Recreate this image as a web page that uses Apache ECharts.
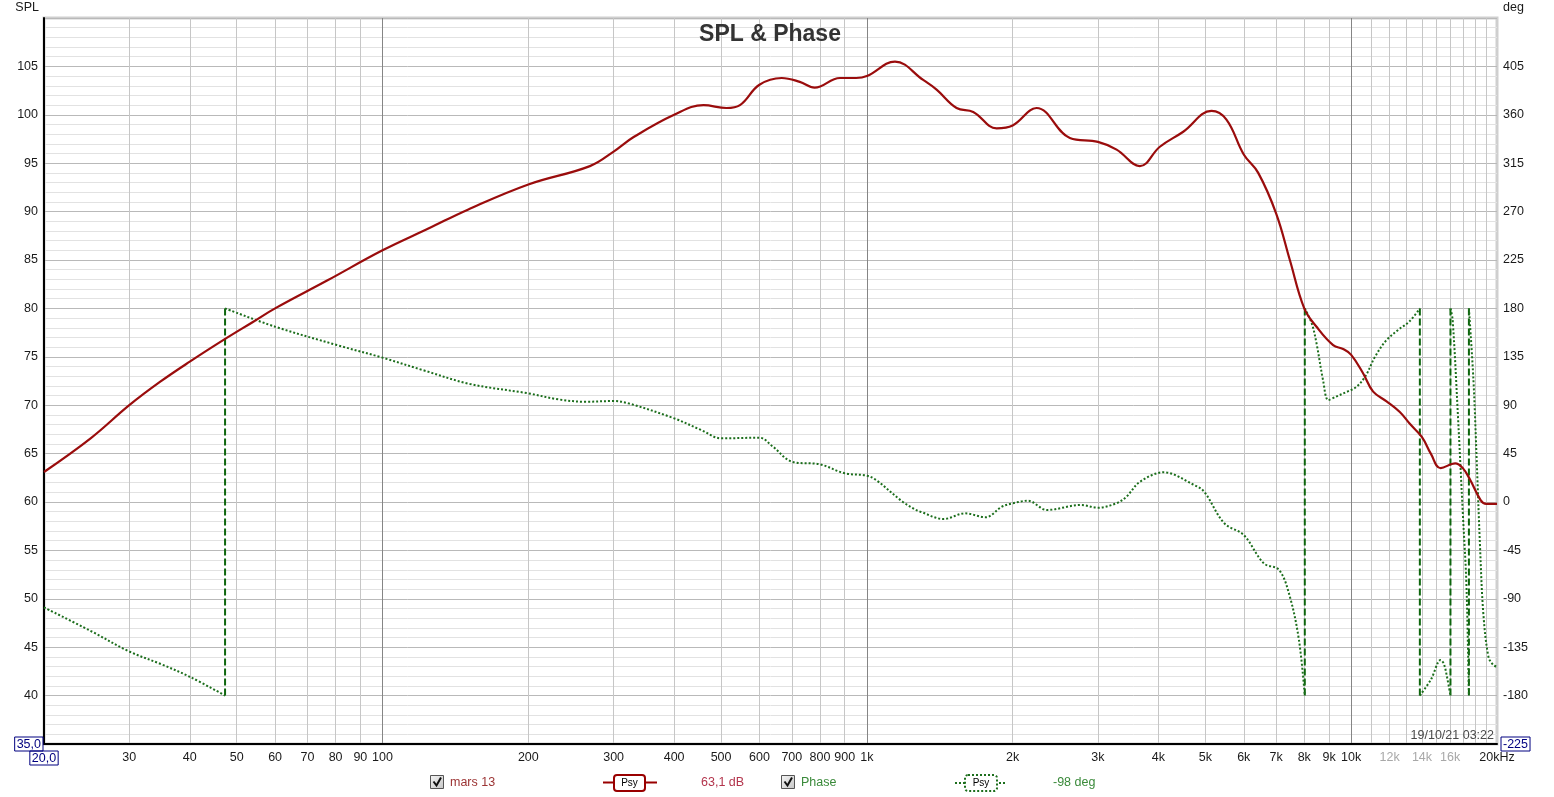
<!DOCTYPE html>
<html><head><meta charset="utf-8">
<script src="https://cdn.jsdelivr.net/npm/echarts@6/dist/echarts.min.js"></script>
<style>html,body{margin:0;padding:0;background:#fff}#c{width:1554px;height:797px}</style>
</head><body><div id="c"></div>
<script>
// ---- data ----
const splFreq = [20,25,30,34.7,40,47.5,54,60,77,100,125,150,200,268,300,330,400,460,513,547,600,667,727,780,880,950,1000,1143,1307,1393,1532,1658,1853,2000,2240,2625,3000,3278,3661,4027,4500,5148,5526,6000,6427,7000,7470,8000,8480,9177,9624,10000,10580,11100,11830,12600,13200,14000,14600,15300,16400,17000,17600,18500,19000,20000];
const splDb = [63.1,66.6,70.0,72.4,74.5,76.9,78.6,80.0,82.9,86.0,88.3,90.2,92.8,94.7,96.2,97.7,100.0,101.0,100.7,101.0,103.1,103.8,103.4,102.8,103.8,103.8,104.0,105.5,103.6,102.6,100.7,100.3,98.6,98.9,100.7,97.6,97.2,96.4,94.7,96.7,98.25,100.4,99.5,95.9,94.0,89.8,85.0,80.0,78.1,76.2,75.8,75.2,73.3,71.4,70.4,69.3,68.1,66.7,65.0,63.5,64.0,63.5,62.3,60.2,59.8,59.8];

const phaseFreq = [20,25,30,35,40,47.3,47.3,47.3,60,80.4,100,121,151.6,200,231,263,300,322,400,455,500,600,640,700,800,900,1000,1045,1185,1257,1290,1440,1594,1758,1900,2000,2150,2354,2765,3000,3276,3436,3665,4100,4740,4970,5470,6000,6600,7100,7470,7800,8020,8020,8020,8290,8480,8750,8970,9300,9800,10250,10700,11200,11800,12500,13200,13860,13860,13860,14620,15300,15540,15790,16030,16030,16030,16200,16600,17000,17280,17420,17500,17500,17500,17880,18170,18450,18740,19200,19650,20000];
const phaseDeg = [-98,-120,-139,-151,-162.5,-180,null,180,163,146,134.2,122.7,109.7,101,95.4,93.2,93.9,91.7,77.8,66.9,59.2,59.8,51.4,37.5,35,26.7,24.5,20.4,0.3,-6.8,-9,-15.8,-10.5,-14.2,-4.4,-1.2,1.2,-7.4,-2.8,-5.3,-1.2,5,18.9,27.6,15.8,9.6,-19.8,-30.7,-57,-63.2,-88,-128.3,-180,null,180,166,147.5,113,94.8,97.9,102.5,107,117,135,150,160,168,180,null,-180,-164.8,-146.9,-150.6,-164,-180,null,180,169,82.5,-10.5,-72.5,-134.5,-180,null,180,113.4,36,-41.6,-103.5,-143.8,-151.6,-153];
const wrapFreq = [47.3, 8020, 13860, 16030, 17500];
const wrapDeg = [-180, 180];

const xLabelValues = [20,30,40,50,60,70,80,90,100,200,300,400,500,600,700,800,900,1000,2000,3000,4000,5000,6000,7000,8000,9000,10000,12000,14000,16000,20000];
const xLightLabels = [12000,14000,16000];
const xGridValues = [30,40,50,60,70,80,90,100,200,300,400,500,600,700,800,900,1000,2000,3000,4000,5000,6000,7000,8000,9000,10000,11000,12000,13000,14000,15000,16000,17000,18000,19000];
const xDecadeValues = [100,1000,10000];

const legendTexts = {spl:'mars 13', splValue:'63,1 dB', phase:'Phase', phaseValue:'-98 deg', tag:'Psy'};
const stampText = '19/10/21 03:22';
const titleText = 'SPL & Phase';

// ---- build ----
const FF = '"Liberation Sans", Arial, sans-serif';
const splData = splFreq.map((f,i)=>[f, splDb[i]]);
const phaseData = phaseFreq.map((f,i)=>[f, phaseDeg[i]==null?'-':phaseDeg[i]]);
const wrapData = [];
wrapFreq.forEach(f=>{ wrapData.push([f,wrapDeg[0]],[f,wrapDeg[1]],[f,'-']); });

const navyBox = {color:'#000080', borderColor:'#000080', borderWidth:1, padding:[1,2,0,2], fontSize:12.5, fontFamily:FF};

function fmtX(v){
  v = Math.round(v);
  if (v===20) return '{b|20,0}';
  if (v===20000) return '20kHz';
  const s = v>=1000 ? (v/1000)+'k' : String(v);
  if (xLightLabels.indexOf(v)>=0) return '{g|'+s+'}';
  return s;
}

const chart = echarts.init(document.getElementById('c'), null, {renderer:'canvas'});
const greenDot = '#1c6e1c';
const option = {
  animation:false,
  backgroundColor:'#ffffff',
  textStyle:{fontFamily:FF},
  grid:{left:44, right:57, top:18, bottom:53, show:true, borderColor:'#cfcfcf', borderWidth:3, backgroundColor:'#ffffff'},
  xAxis:[
    {type:'log', logBase:10, min:20, max:20000, position:'bottom',
     axisLine:{show:true, onZero:false, lineStyle:{color:'#000', width:2}},
     axisTick:{show:false, customValues:xGridValues},
     axisLabel:{customValues:xLabelValues, formatter:fmtX, margin:7, color:'#1a1a1a', fontSize:12.5, fontFamily:FF, hideOverlap:false,
       rich:{b:navyBox, g:{color:'#a8a8a8', fontSize:12.5, fontFamily:FF}}},
     splitLine:{show:true, lineStyle:{color:'#c6c6c6', width:1}}},
    {type:'log', logBase:10, min:20, max:20000, position:'bottom',
     axisLine:{show:false}, axisTick:{show:false, customValues:xDecadeValues}, axisLabel:{show:false},
     splitLine:{show:true, lineStyle:{color:'#858585', width:1}}}
  ],
  yAxis:[
    {type:'value', min:35, max:110, interval:5, position:'left',
     name:'SPL', nameLocation:'end', nameGap:10,
     nameTextStyle:{align:'right', verticalAlign:'middle', padding:[0,5,0,0], color:'#1a1a1a', fontSize:12.5, fontFamily:FF},
     axisLine:{show:true, onZero:false, lineStyle:{color:'#000', width:2}},
     axisTick:{show:false},
     minorTick:{show:false, splitNumber:5},
     minorSplitLine:{show:true, lineStyle:{color:'#e2e2e2', width:1}},
     splitLine:{show:true, lineStyle:{color:'#b9b9b9', width:1}},
     axisLabel:{margin:1, color:'#1a1a1a', fontSize:12.5, fontFamily:FF,
       formatter:v=> v===110 ? '' : (v===35 ? '{b|35,0}' : '{n|'+v+'}{s| }'),
       rich:{b:navyBox, n:{color:'#1a1a1a', fontSize:12.5, fontFamily:FF}, s:{width:5}}}},
    {type:'value', min:-225, max:450, interval:45, position:'right',
     name:'deg', nameLocation:'end', nameGap:10,
     nameTextStyle:{align:'left', verticalAlign:'middle', padding:[0,0,0,6], color:'#1a1a1a', fontSize:12.5, fontFamily:FF},
     axisLine:{show:false}, axisTick:{show:false}, splitLine:{show:false},
     axisLabel:{margin:4, color:'#1a1a1a', fontSize:12.5, fontFamily:FF,
       formatter:v=> v===450 ? '' : (v===-225 ? '{b|-225}' : '{s| }{n|'+v+'}'),
       rich:{b:navyBox, n:{color:'#1a1a1a', fontSize:12.5, fontFamily:FF}, s:{width:2}}}}
  ],
  series:[
    {name:'Phase wrap', type:'line', xAxisIndex:0, yAxisIndex:1, data:wrapData, showSymbol:false, symbol:'none', connectNulls:false,
     lineStyle:{color:'#0d650d', width:2, type:[7,3]}, z:2, silent:true},
    {name:'Phase', type:'line', xAxisIndex:0, yAxisIndex:1, data:phaseData, showSymbol:false, symbol:'none', connectNulls:false,
     smooth:0.35, lineStyle:{color:greenDot, width:2, type:[2,2]}, z:3, silent:true},
    {name:'mars 13', type:'line', xAxisIndex:0, yAxisIndex:0, data:splData, showSymbol:false, symbol:'none',
     smooth:0.4, lineStyle:{color:'#9a0c0c', width:2.2}, z:4, silent:true}
  ],
  graphic:[
    {type:'text', x:770, y:35, z:10, style:{text:titleText, align:'center', verticalAlign:'middle', fontSize:23, fontWeight:'bold', fontFamily:FF, fill:'#333333'}},
    {type:'text', x:1494, y:736, z:10, style:{text:stampText, align:'right', verticalAlign:'middle', fontSize:12.5, fontFamily:FF, fill:'#4a4a4a'}},
    // legend row
    {type:'rect', shape:{x:430.5,y:775.5,width:13,height:13}, style:{fill:new echarts.graphic.LinearGradient(0,0,1,1,[{offset:0,color:'#f6f6f6'},{offset:1,color:'#c4c4c4'}]), stroke:'#555', lineWidth:1}},
    {type:'polyline', shape:{points:[[433.5,781.5],[436.5,785.5],[441,777.5]]}, style:{stroke:'#111', lineWidth:2, fill:null}},
    {type:'text', x:450, y:782.5, style:{text:legendTexts.spl, verticalAlign:'middle', fontSize:12.5, fontFamily:FF, fill:'#9c3434'}},
    {type:'line', shape:{x1:603,y1:782.5,x2:657,y2:782.5}, style:{stroke:'#990000', lineWidth:2}},
    {type:'rect', shape:{x:614,y:775,width:31,height:16,r:3}, style:{fill:'#fff', stroke:'#990000', lineWidth:2}},
    {type:'text', x:629.5, y:783.5, style:{text:legendTexts.tag, align:'center', verticalAlign:'middle', fontSize:10, fontFamily:FF, fill:'#000'}},
    {type:'text', x:701, y:782.5, style:{text:legendTexts.splValue, verticalAlign:'middle', fontSize:12.5, fontFamily:FF, fill:'#b3344c'}},
    {type:'rect', shape:{x:781.5,y:775.5,width:13,height:13}, style:{fill:new echarts.graphic.LinearGradient(0,0,1,1,[{offset:0,color:'#f6f6f6'},{offset:1,color:'#c4c4c4'}]), stroke:'#555', lineWidth:1}},
    {type:'polyline', shape:{points:[[784.5,781.5],[787.5,785.5],[792,777.5]]}, style:{stroke:'#111', lineWidth:2, fill:null}},
    {type:'text', x:801, y:782.5, style:{text:legendTexts.phase, verticalAlign:'middle', fontSize:12.5, fontFamily:FF, fill:'#3a8a3a'}},
    {type:'line', shape:{x1:955,y1:783,x2:1006,y2:783}, style:{stroke:greenDot, lineWidth:2, lineDash:[2,2]}},
    {type:'rect', shape:{x:965,y:775,width:32,height:16,r:3}, style:{fill:'#fff', stroke:greenDot, lineWidth:2, lineDash:[2,2]}},
    {type:'text', x:981, y:783.5, style:{text:legendTexts.tag, align:'center', verticalAlign:'middle', fontSize:10, fontFamily:FF, fill:'#000'}},
    {type:'text', x:1053, y:782.5, style:{text:legendTexts.phaseValue, verticalAlign:'middle', fontSize:12.5, fontFamily:FF, fill:'#3a8a3a'}}
  ]
};
chart.setOption(option);
</script></body></html>
